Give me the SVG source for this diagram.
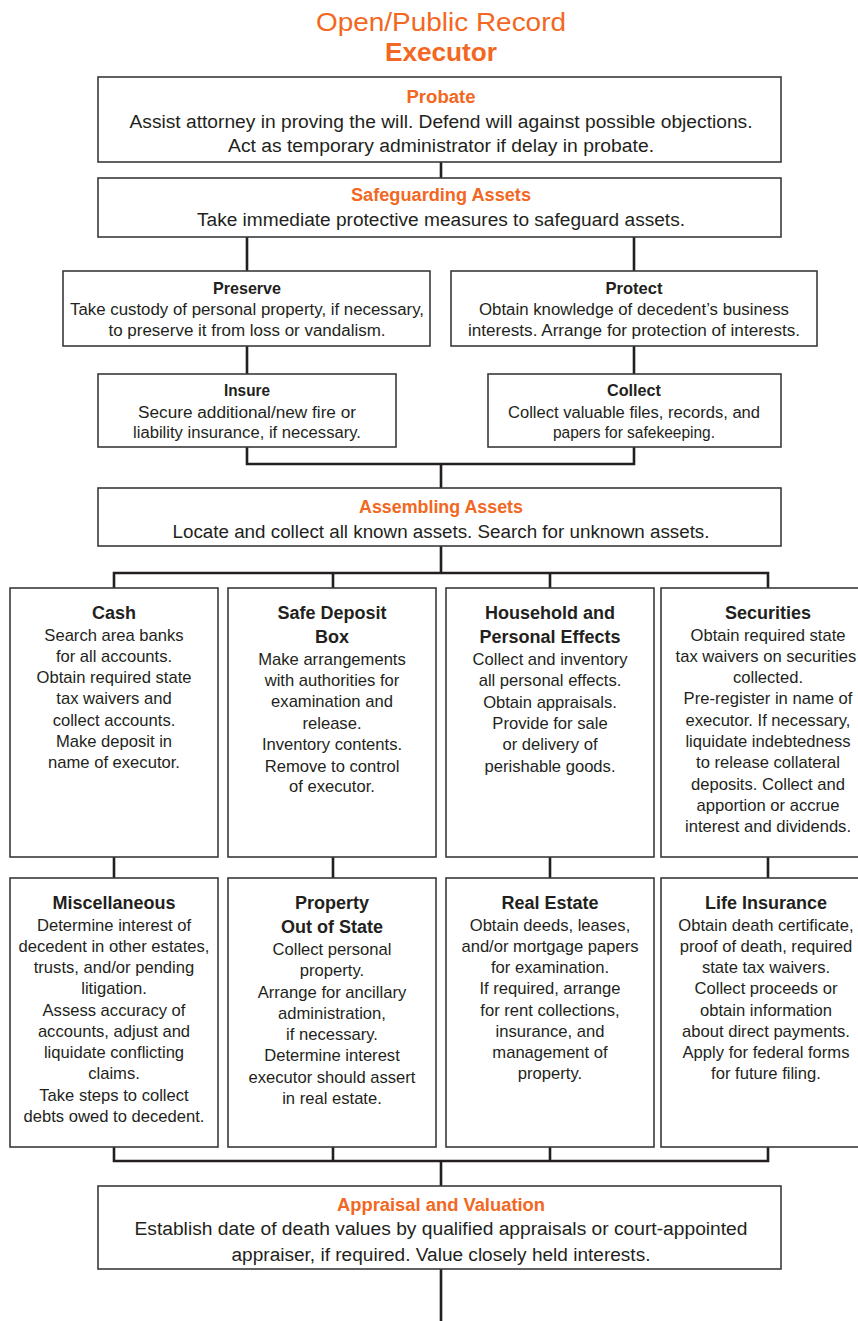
<svg xmlns="http://www.w3.org/2000/svg" width="858" height="1321" viewBox="0 0 858 1321">
<style>
text{font-family:"Liberation Sans",Arial,sans-serif;fill:#231f20;text-anchor:middle}
.box{fill:#fff;stroke:#3a3a3a;stroke-width:1.6}
.conn{fill:none;stroke:#231f20;stroke-width:2.6}
.h1{fill:#f26722;font-size:26px}
.h1b{fill:#f26722;font-size:26px;font-weight:bold}
.ot{fill:#f26722;font-size:18px;font-weight:bold}
.bt{font-size:16.5px;font-weight:bold}
.tb{font-size:18px}
.sb{font-size:16px}
.ct{font-size:18px;font-weight:bold}
.cb{font-size:16.6px}
</style>
<rect width="858" height="1321" fill="#fff"/>
<g id="title">
<text class="h1" x="441" y="31" textLength="250" lengthAdjust="spacingAndGlyphs">Open/Public Record</text>
<text class="h1b" x="441" y="61" textLength="112" lengthAdjust="spacingAndGlyphs">Executor</text>
</g>
<g id="connectors">
<path class="conn" d="M441,162V178"/>
<path class="conn" d="M247,237V271M634,237V271"/>
<path class="conn" d="M247,346V374M634,346V374"/>
<path class="conn" d="M247,447V464H634V447M441,464V488"/>
<path class="conn" d="M441,546V573M114,588V573H768V588M333,573V588M550,573V588"/>
<path class="conn" d="M114,857V878M333,857V878M550,857V878M768,857V878"/>
<path class="conn" d="M114,1147V1161H768V1147M333,1147V1161M550,1147V1161M441,1161V1186"/>
<path class="conn" d="M441,1269V1321"/>
</g>
<g id="probate">
<rect class="box" x="98" y="77" width="683" height="85"/>
<text class="ot" x="441" y="103" textLength="69" lengthAdjust="spacingAndGlyphs">Probate</text>
<text class="tb" x="441" y="128" textLength="623" lengthAdjust="spacingAndGlyphs">Assist attorney in proving the will. Defend will against possible objections.</text>
<text class="tb" x="441" y="152" textLength="426" lengthAdjust="spacingAndGlyphs">Act as temporary administrator if delay in probate.</text>
</g>
<g id="safeguarding">
<rect class="box" x="98" y="178" width="683" height="59"/>
<text class="ot" x="441" y="201" textLength="180" lengthAdjust="spacingAndGlyphs">Safeguarding Assets</text>
<text class="tb" x="441" y="226" textLength="488" lengthAdjust="spacingAndGlyphs">Take immediate protective measures to safeguard assets.</text>
</g>
<g id="preserve">
<rect class="box" x="63" y="271" width="367" height="75"/>
<text class="bt" x="247" y="294" textLength="68" lengthAdjust="spacingAndGlyphs">Preserve</text>
<text class="sb" x="247" y="315" textLength="354" lengthAdjust="spacingAndGlyphs">Take custody of personal property, if necessary,</text>
<text class="sb" x="247" y="336" textLength="277" lengthAdjust="spacingAndGlyphs">to preserve it from loss or vandalism.</text>
</g>
<g id="protect">
<rect class="box" x="451" y="271" width="366" height="75"/>
<text class="bt" x="634" y="294" textLength="57" lengthAdjust="spacingAndGlyphs">Protect</text>
<text class="sb" x="634" y="315" textLength="310" lengthAdjust="spacingAndGlyphs">Obtain knowledge of decedent’s business</text>
<text class="sb" x="634" y="336" textLength="332" lengthAdjust="spacingAndGlyphs">interests. Arrange for protection of interests.</text>
</g>
<g id="insure">
<rect class="box" x="98" y="374" width="298" height="73"/>
<text class="bt" x="247" y="396" textLength="46" lengthAdjust="spacingAndGlyphs">Insure</text>
<text class="sb" x="247" y="417.5" textLength="218" lengthAdjust="spacingAndGlyphs">Secure additional/new fire or</text>
<text class="sb" x="247" y="437.5" textLength="228" lengthAdjust="spacingAndGlyphs">liability insurance, if necessary.</text>
</g>
<g id="collect">
<rect class="box" x="488" y="374" width="293" height="73"/>
<text class="bt" x="634" y="396" textLength="54" lengthAdjust="spacingAndGlyphs">Collect</text>
<text class="sb" x="634" y="417.5" textLength="252" lengthAdjust="spacingAndGlyphs">Collect valuable files, records, and</text>
<text class="sb" x="634" y="437.5" textLength="162" lengthAdjust="spacingAndGlyphs">papers for safekeeping.</text>
</g>
<g id="assembling">
<rect class="box" x="98" y="488" width="683" height="58"/>
<text class="ot" x="441" y="513" textLength="164" lengthAdjust="spacingAndGlyphs">Assembling Assets</text>
<text class="tb" x="441" y="538" textLength="537" lengthAdjust="spacingAndGlyphs">Locate and collect all known assets. Search for unknown assets.</text>
</g>
<g id="cash">
<rect class="box" x="10" y="588" width="208" height="269"/>
<text class="ct" x="114" y="619">Cash</text>
<text class="cb" x="114" y="640.5">Search area banks</text>
<text class="cb" x="114" y="662">for all accounts.</text>
<text class="cb" x="114" y="683">Obtain required state</text>
<text class="cb" x="114" y="704">tax waivers and</text>
<text class="cb" x="114" y="725.5">collect accounts.</text>
<text class="cb" x="114" y="747">Make deposit in</text>
<text class="cb" x="114" y="768">name of executor.</text>
</g>
<g id="safe-deposit">
<rect class="box" x="228" y="588" width="208" height="269"/>
<text class="ct" x="332" y="619">Safe Deposit</text>
<text class="ct" x="332" y="643">Box</text>
<text class="cb" x="332" y="665">Make arrangements</text>
<text class="cb" x="332" y="686">with authorities for</text>
<text class="cb" x="332" y="707">examination and</text>
<text class="cb" x="332" y="729">release.</text>
<text class="cb" x="332" y="750">Inventory contents.</text>
<text class="cb" x="332" y="771.5">Remove to control</text>
<text class="cb" x="332" y="792">of executor.</text>
</g>
<g id="household">
<rect class="box" x="446" y="588" width="208" height="269"/>
<text class="ct" x="550" y="619">Household and</text>
<text class="ct" x="550" y="643">Personal Effects</text>
<text class="cb" x="550" y="665">Collect and inventory</text>
<text class="cb" x="550" y="686">all personal effects.</text>
<text class="cb" x="550" y="707.5">Obtain appraisals.</text>
<text class="cb" x="550" y="729">Provide for sale</text>
<text class="cb" x="550" y="750">or delivery of</text>
<text class="cb" x="550" y="771.5">perishable goods.</text>
</g>
<g id="securities">
<rect class="box" x="661" y="588" width="214" height="269"/>
<text class="ct" x="768" y="619">Securities</text>
<text class="cb" x="768" y="640.5">Obtain required state</text>
<text class="cb" x="766" y="662">tax waivers on securities</text>
<text class="cb" x="768" y="683">collected.</text>
<text class="cb" x="768" y="704">Pre-register in name of</text>
<text class="cb" x="768" y="725.5">executor. If necessary,</text>
<text class="cb" x="768" y="747">liquidate indebtedness</text>
<text class="cb" x="768" y="768">to release collateral</text>
<text class="cb" x="768" y="789.5">deposits. Collect and</text>
<text class="cb" x="768" y="811">apportion or accrue</text>
<text class="cb" x="768" y="832">interest and dividends.</text>
</g>
<g id="miscellaneous">
<rect class="box" x="10" y="878" width="208" height="269"/>
<text class="ct" x="114" y="908.5">Miscellaneous</text>
<text class="cb" x="114" y="930.5">Determine interest of</text>
<text class="cb" x="114" y="952">decedent in other estates,</text>
<text class="cb" x="114" y="973">trusts, and/or pending</text>
<text class="cb" x="114" y="994">litigation.</text>
<text class="cb" x="114" y="1015.5">Assess accuracy of</text>
<text class="cb" x="114" y="1037">accounts, adjust and</text>
<text class="cb" x="114" y="1058">liquidate conflicting</text>
<text class="cb" x="114" y="1079">claims.</text>
<text class="cb" x="114" y="1100.5">Take steps to collect</text>
<text class="cb" x="114" y="1122">debts owed to decedent.</text>
</g>
<g id="property-out-of-state">
<rect class="box" x="228" y="878" width="208" height="269"/>
<text class="ct" x="332" y="908.5">Property</text>
<text class="ct" x="332" y="932.5">Out of State</text>
<text class="cb" x="332" y="955">Collect personal</text>
<text class="cb" x="332" y="976">property.</text>
<text class="cb" x="332" y="997.5">Arrange for ancillary</text>
<text class="cb" x="332" y="1019">administration,</text>
<text class="cb" x="332" y="1040">if necessary.</text>
<text class="cb" x="332" y="1061">Determine interest</text>
<text class="cb" x="332" y="1083">executor should assert</text>
<text class="cb" x="332" y="1104">in real estate.</text>
</g>
<g id="real-estate">
<rect class="box" x="446" y="878" width="208" height="269"/>
<text class="ct" x="550" y="908.5">Real Estate</text>
<text class="cb" x="550" y="930.5">Obtain deeds, leases,</text>
<text class="cb" x="550" y="952">and/or mortgage papers</text>
<text class="cb" x="550" y="973">for examination.</text>
<text class="cb" x="550" y="994">If required, arrange</text>
<text class="cb" x="550" y="1015.5">for rent collections,</text>
<text class="cb" x="550" y="1037">insurance, and</text>
<text class="cb" x="550" y="1058">management of</text>
<text class="cb" x="550" y="1079">property.</text>
</g>
<g id="life-insurance">
<rect class="box" x="661" y="878" width="214" height="269"/>
<text class="ct" x="766" y="908.5">Life Insurance</text>
<text class="cb" x="766" y="930.5">Obtain death certificate,</text>
<text class="cb" x="766" y="952">proof of death, required</text>
<text class="cb" x="766" y="973">state tax waivers.</text>
<text class="cb" x="766" y="994">Collect proceeds or</text>
<text class="cb" x="766" y="1015.5">obtain information</text>
<text class="cb" x="766" y="1037">about direct payments.</text>
<text class="cb" x="766" y="1058">Apply for federal forms</text>
<text class="cb" x="766" y="1079">for future filing.</text>
</g>
<g id="appraisal">
<rect class="box" x="98" y="1186" width="683" height="83"/>
<text class="ot" x="441" y="1211" textLength="208" lengthAdjust="spacingAndGlyphs">Appraisal and Valuation</text>
<text class="tb" x="441" y="1235" textLength="613" lengthAdjust="spacingAndGlyphs">Establish date of death values by qualified appraisals or court-appointed</text>
<text class="tb" x="441" y="1261" textLength="419" lengthAdjust="spacingAndGlyphs">appraiser, if required. Value closely held interests.</text>
</g>
</svg>
